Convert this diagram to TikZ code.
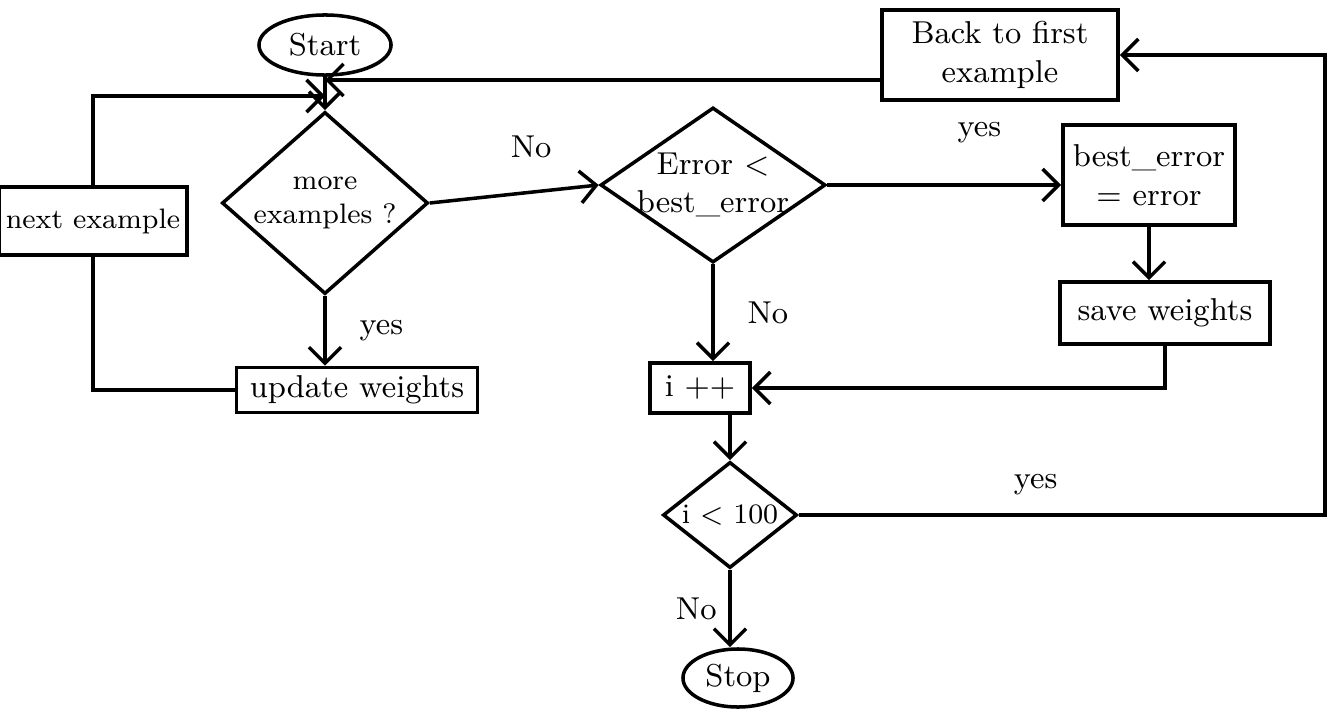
\documentclass[tikz,border=0pt]{standalone}
\usetikzlibrary{shapes.geometric, arrows.meta, positioning}

\begin{document}
\begin{tikzpicture}[x=0.01cm, y=-0.01cm, line width=1pt,
    every node/.style={font=\small},
    box/.style={draw, rectangle, align=center, inner sep=2pt},
    decision/.style={draw, diamond, align=center, inner sep=-8pt},
    terminal/.style={draw, ellipse, inner sep=0pt},
    flow/.style={-{Straight Barb[length=1.6mm, width=3.2mm]}}]
    \useasboundingbox (0,0) rectangle (1333,715);

    % Left column
    \node[terminal, minimum width=1.32cm, minimum height=0.6cm] (start) at (325,45) {Start};
    \node[decision, minimum width=2.06cm, minimum height=1.82cm, font=\footnotesize] (more) at (325,203) {more\\examples ?};
    \node[box, minimum width=2.41cm, minimum height=0.45cm] (upd) at (357,390) {update weights};
    \node[box, minimum width=1.73cm, minimum height=0.68cm, font=\footnotesize] (next) at (93,221) {next example};

    % Middle column
    \node[decision, minimum width=2.25cm, minimum height=1.55cm] (err) at (713,185) {Error $<$\\best\_error};
    \node[box, minimum width=1.0cm, minimum height=0.5cm] (inc) at (700,388) {i ++};
    \node[decision, inner sep=-4pt, minimum width=1.34cm, minimum height=1.06cm, font=\footnotesize] (lt) at (730,515) {i $<$ 100};
    \node[terminal, minimum width=1.1cm, minimum height=0.58cm] (stop) at (738,678) {Stop};

    % Right column
    \node[box, minimum width=2.36cm, minimum height=0.9cm] (back) at (1000,55) {Back to first\\example};
    \node[box, minimum width=1.72cm, minimum height=1.0cm] (best) at (1149,175) {best\_error\\= error};
    \node[box, minimum width=2.1cm, minimum height=0.62cm] (save) at (1165,313) {save weights};

    % Junctions
    \coordinate (jr) at (325,80);
    \coordinate (jl) at (325,96);
    \coordinate (rc) at (1325,515);

    % Connectors
    \draw[flow] (start) -- (more);
    \draw[flow] (back.west |- jr) -- (jr);
    \draw[flow] (next) |- (jl);
    \draw (upd) -| (next);
    \draw[flow] (more.south) -- node[right=6pt] {yes} (more.south |- upd.north);
    \draw[flow] (more.east) -- node[above=6pt, pos=0.6] {No} (err.west);
    \draw[flow] (err.east) -- node[above=8pt, pos=0.65] {yes} (err.east -| best.west);
    \draw[flow] (best.south) -- (best.south |- save.north);
    \draw[flow] (save.south) |- (inc.east);
    \draw[flow] (err.south) -- node[right=6pt] {No} (err.south |- inc.north);
    \draw[flow] (inc.south -| lt.north) -- (lt.north);
    \draw[flow] (lt.south) -- node[left] {No} (lt.south |- stop.north);
    \draw[flow] (lt.east) -- node[above=2pt, pos=0.45] {yes} (lt.east -| rc) |- (back.east);
\end{tikzpicture}
\end{document}
